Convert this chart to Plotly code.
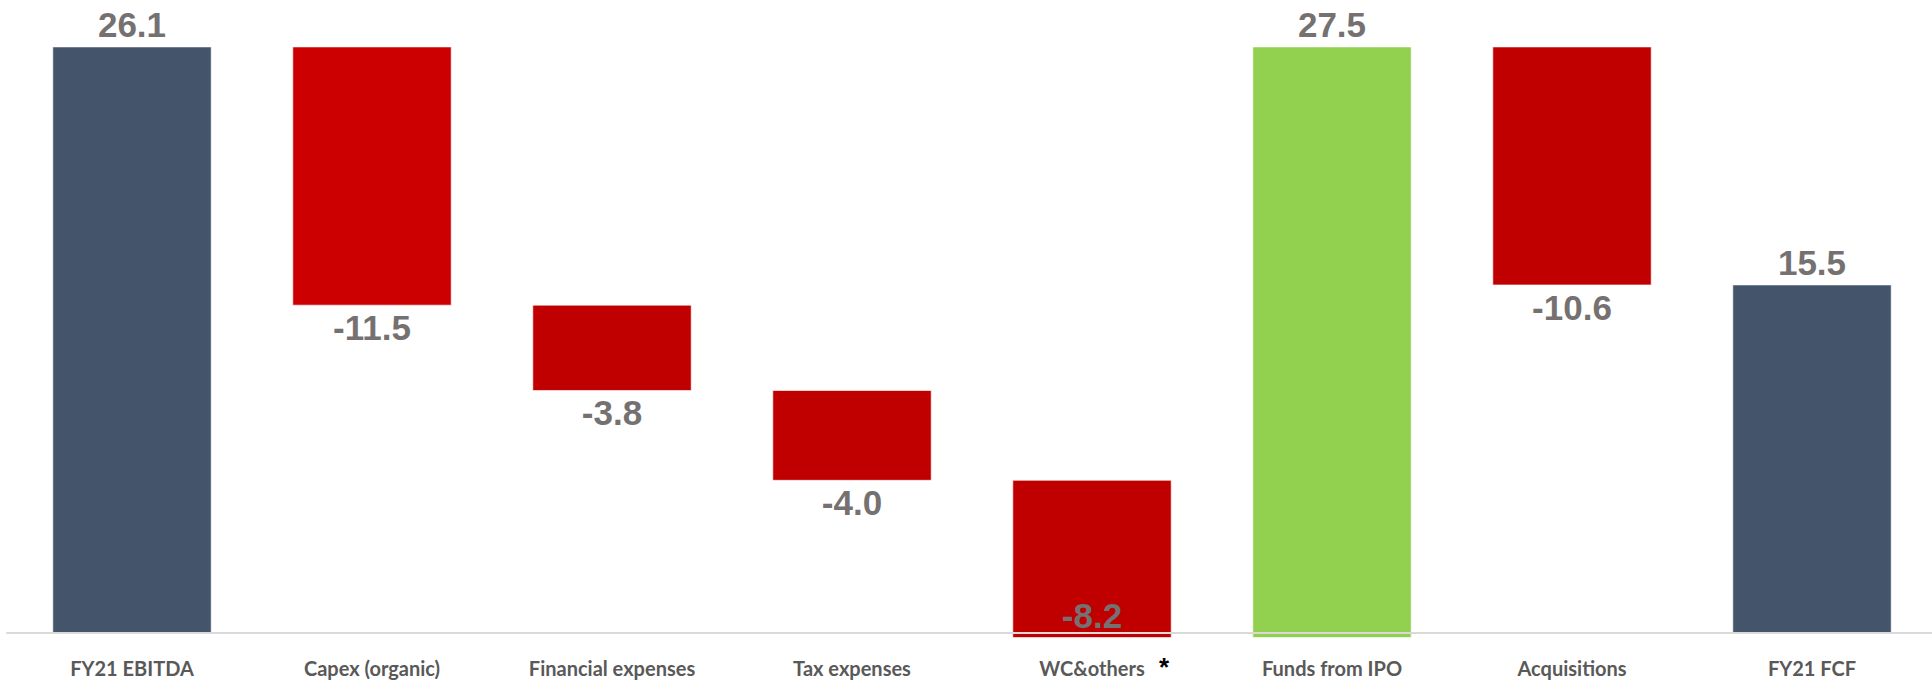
import plotly.graph_objects as go

categories = ["FY21 EBITDA", "Capex (organic)", "Financial expenses", "Tax expenses",
              "WC&others", "Funds from IPO", "Acquisitions", "FY21 FCF"]
tick_text = ["FY21 EBITDA", "Capex (organic)", "Financial expenses", "Tax expenses",
             "WC&amp;others", "Funds from IPO", "Acquisitions", "FY21 FCF"]
footnote_mark = "*"
footnote_category = "WC&others"
# values printed on the chart
reported = [26.1, -11.5, -3.8, -4.0, -8.2, 27.5, -10.6, 15.5]
# bar heights as drawn in the reference
drawn = [26.1, -11.5, -3.8, -4.0, -7.0, 26.3, -10.6, 15.5]
measures = ["absolute", "relative", "relative", "relative", "relative", "relative", "relative", "total"]
colors = ["#44546A", "#CC0000", "#C00000", "#C00000", "#C00000", "#92D050", "#C00000", "#44546A"]

bases, heights = [], []
running = 0.0
for m, v in zip(measures, drawn):
    if m == "absolute":
        bases.append(0.0); heights.append(v); running = v
    elif m == "relative":
        bases.append(running); heights.append(v); running += v
    else:
        bases.append(0.0); heights.append(running)

text_pos = ["outside"] * len(reported)
text_pos[4] = "inside"

fig = go.Figure(go.Bar(
    x=categories, y=heights, base=bases,
    marker=dict(color=colors, line=dict(width=1, color="rgba(255,255,255,0.6)")),
    text=[f"{v:.1f}" for v in reported],
    textposition=text_pos,
    insidetextanchor="end",
    textfont=dict(family="Liberation Sans", size=35, color="#767171", weight="bold"),
    cliponaxis=False,
    constraintext="none",
    width=0.66,
    hoverinfo="skip",
))

fig.add_shape(type="line", xref="paper", yref="y", x0=-0.003, x1=1, y0=0, y1=0,
              line=dict(color="#D9D9D9", width=2), layer="above")

fig.add_annotation(x=categories.index(footnote_category) + 0.30, xref="x",
                   y=0, yref="paper", yanchor="middle", yshift=-26,
                   text=footnote_mark, showarrow=False,
                   font=dict(family="Liberation Sans", size=26, color="#000000", weight="bold"))

fig.update_layout(
    width=1932, height=681,
    margin=dict(l=12, r=0, t=0, b=40, pad=0, autoexpand=False),
    plot_bgcolor="white", paper_bgcolor="white",
    showlegend=False,
    xaxis=dict(tickmode="array", tickvals=categories, ticktext=tick_text,
               tickfont=dict(family="Lato", size=20, color="#595959", weight="bold"),
               showgrid=False, showline=False, ticks="", range=[-0.5, 7.5],
               ticklabelstandoff=14, automargin=False),
    yaxis=dict(range=[-0.356, 28.19], autorange=False, visible=False,
               showgrid=False, zeroline=False, automargin=False),
)

fig.write_html("out.html", config={"displayModeBar": False},
               post_script="document.body.style.margin='0';")
